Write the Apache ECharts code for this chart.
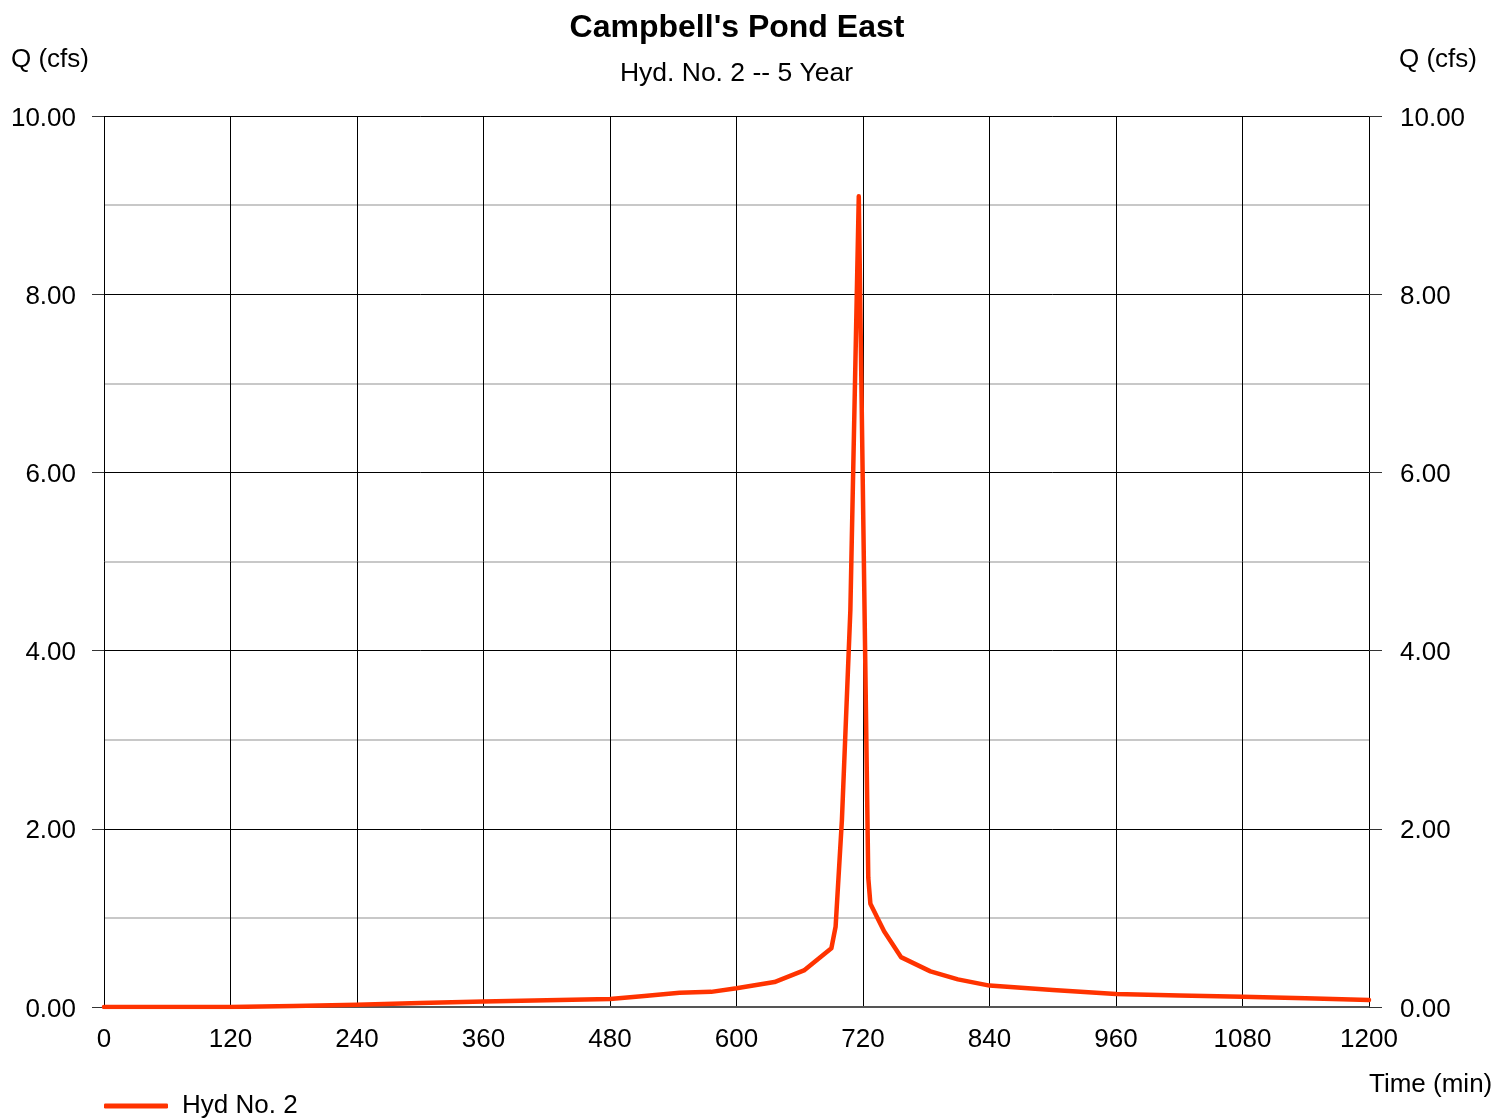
<!DOCTYPE html>
<html>
<head>
<meta charset="utf-8">
<script src="https://cdn.jsdelivr.net/npm/echarts@6/dist/echarts.min.js"></script>
<style>
html,body{margin:0;padding:0;background:#fff;}
#chart{width:1497px;height:1118px;}
</style>
</head>
<body>
<div id="chart"></div>
<script>
var titleText = "Campbell's Pond East";
var subtitleText = "Hyd. No. 2 -- 5 Year";
var seriesName = "Hyd No. 2";
var timeMin = [0, 120, 180, 240, 300, 360, 420, 480, 510, 546, 576, 600, 636, 664, 690, 694, 700, 708, 716, 725, 727, 740, 756, 784, 810, 840, 900, 960, 1020, 1080, 1140, 1200];
var flowCfs = [0, 0, 0.012, 0.025, 0.045, 0.062, 0.077, 0.09, 0.12, 0.16, 0.17, 0.21, 0.28, 0.41, 0.66, 0.9, 2.1, 4.45, 9.1, 1.45, 1.16, 0.85, 0.56, 0.40, 0.31, 0.24, 0.19, 0.146, 0.13, 0.116, 0.098, 0.079];
var xTicks = [0, 1200, 120];
var yTicks = [0, 10, 2];

var data = timeMin.map(function (t, i) { return [t, flowCfs[i]]; });
var font = 'Liberation Sans, Arial, sans-serif';
var chart = echarts.init(document.getElementById('chart'));
var yLabel = {
  fontSize: 26, color: '#000', fontFamily: font,
  formatter: function (v) { return '{a|' + v.toFixed(2) + '}'; },
  rich: { a: { fontSize: 26, color: '#000', fontFamily: font, padding: [5, 0, 0, 0] } }
};
chart.setOption({
  animation: false,
  backgroundColor: '#fff',
  textStyle: { fontFamily: font },
  title: [
    { text: titleText, left: 732, top: 7, textAlign: 'center', textStyle: { fontSize: 32, fontWeight: 'bold', color: '#000', fontFamily: font } },
    { text: subtitleText, left: 731.5, top: 55, textAlign: 'center', textStyle: { fontSize: 26.5, fontWeight: 'normal', color: '#000', fontFamily: font } }
  ],
  legend: {
    left: 104, top: 1093, padding: 0,
    icon: 'roundRect', itemWidth: 64, itemHeight: 5,
    textStyle: { fontSize: 26, color: '#000', fontFamily: font, padding: [0, 0, 0, 9] },
    data: [seriesName]
  },
  grid: { left: 104, right: 128, top: 116, bottom: 111, containLabel: false },
  xAxis: {
    type: 'value', min: xTicks[0], max: xTicks[1], interval: xTicks[2],
    axisLine: { show: true, lineStyle: { color: '#555', width: 2 } },
    axisTick: { show: false },
    axisLabel: { fontSize: 26, color: '#000', fontFamily: font, margin: 20, formatter: function (v) { return String(v); } },
    splitLine: { show: true, lineStyle: { color: '#000', width: 1 } }
  },
  yAxis: [
    {
      type: 'value', position: 'left', min: yTicks[0], max: yTicks[1], interval: yTicks[2],
      axisLine: { show: false },
      axisTick: { show: true, length: 12, lineStyle: { color: '#333', width: 1 } },
      axisLabel: Object.assign({ margin: 28 }, yLabel),
      splitLine: { show: true, lineStyle: { color: '#000', width: 1 } },
      minorTick: { show: false, splitNumber: 2 },
      minorSplitLine: { show: true, lineStyle: { color: '#c8c8c8', width: 2 } }
    },
    {
      type: 'value', position: 'right', min: yTicks[0], max: yTicks[1], interval: yTicks[2],
      axisLine: { show: false },
      axisTick: { show: true, length: 13, lineStyle: { color: '#333', width: 1 } },
      axisLabel: Object.assign({ margin: 31 }, yLabel),
      splitLine: { show: false }
    }
  ],
  graphic: [
    { type: 'text', left: 11, top: 47, style: { text: 'Q (cfs)', fill: '#000', font: '26px ' + font } },
    { type: 'text', left: 1399, top: 47, style: { text: 'Q (cfs)', fill: '#000', font: '26px ' + font } },
    { type: 'text', left: 1369, top: 1072, style: { text: 'Time (min)', fill: '#000', font: '26px ' + font } }
  ],
  series: [{
    name: seriesName, type: 'line', data: data, showSymbol: false, symbol: 'none',
    lineStyle: { color: '#ff3300', width: 4.5, join: 'round', cap: 'round' },
    itemStyle: { color: '#ff3300' }, z: 5
  }]
});
</script>
</body>
</html>
